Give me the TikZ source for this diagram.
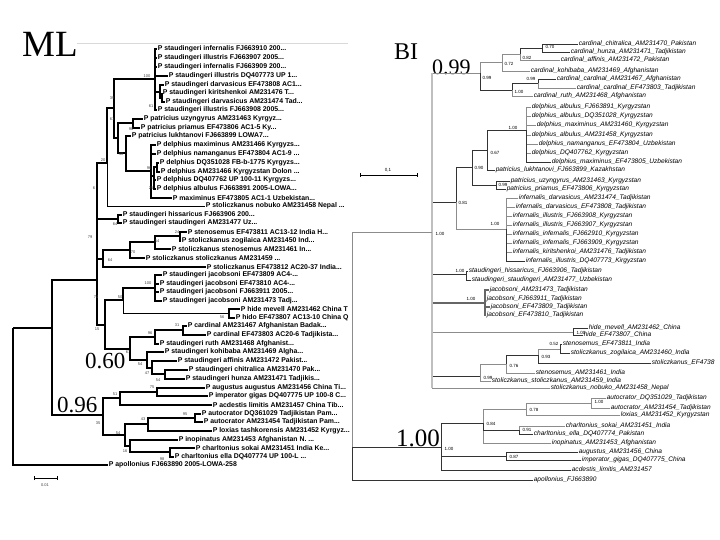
\documentclass[tikz,border=0pt]{standalone}
\usepackage{fontspec}
\setmainfont{Liberation Sans}
\newfontfamily\serifbig{Liberation Serif}
\begin{document}
\begin{tikzpicture}[x=1pt,y=-1pt,
  mlleaf/.style={anchor=west,inner sep=0.6pt,font=\fontsize{6.9}{7}\selectfont\bfseries},
  bileaf/.style={anchor=west,inner sep=0.6pt,font=\fontsize{6.6}{7}\selectfont\itshape},
  bs/.style={inner sep=0.3pt,font=\fontsize{4}{4}\selectfont,text=black!75},
  bbs/.style={anchor=west,inner sep=0.3pt,font=\fontsize{4.5}{5}\selectfont},
  big/.style={anchor=base west,inner sep=0pt,font=\serifbig\fontsize{23}{23}\selectfont},
  mlb/.style={line width=1.5pt},
  mlt/.style={line width=0.7pt},
  bib/.style={line width=0.7pt,black!80},
  big2/.style={line width=0.7pt,black!45},
  mid/.style={line width=1.6pt,black!25}]
\useasboundingbox (0,0) rectangle (720,540);
\fill[white] (0,0) rectangle (720,540);
% ---------- titles ----------
\node[big,font=\serifbig\fontsize{37}{37}\selectfont] (tML) at (22,57) {ML};
\node[big] (t060) at (85,368) {0.60};
\node[big] (t096) at (57,412) {0.96};
\node[big,font=\serifbig\fontsize{24}{24}\selectfont] (tBI) at (394,60) {BI};
\node[big,font=\serifbig\fontsize{22}{22}\selectfont] (t099) at (432,75) {0.99};
\node[big,font=\serifbig\fontsize{25}{25}\selectfont] (t100) at (396,446) {1.00};
\coordinate (sepA) at (77,43); \coordinate (sepB) at (348,43);
\draw[black!15,line width=0.6pt] (sepA) -- (sepB);
% ---------- ML leaves ----------
\node[mlleaf] (L1) at (157,49) {P staudingeri infernalis FJ663910 200...};
\node[mlleaf] (L2) at (157,58) {P staudingeri illustris FJ663907 2005...};
\node[mlleaf] (L3) at (157,67) {P staudingeri infernalis FJ663909 200...};
\node[mlleaf] (L4) at (168,76) {P staudingeri illustris DQ407773 UP 1...};
\node[mlleaf] (L5) at (164,85) {P staudingeri darvasicus EF473808 AC1...};
\node[mlleaf] (L6) at (162,93) {P staudingeri kiritshenkoi AM231476 T...};
\node[mlleaf] (L7) at (165,102) {P staudingeri darvasicus AM231474 Tad...};
\node[mlleaf] (L8) at (157,110) {P staudingeri illustris FJ663908 2005...};
\node[mlleaf] (L9) at (143,119) {P patricius uzyngyrus AM231463 Kyrgyz...};
\node[mlleaf] (L10) at (140,128) {P patricius priamus EF473806 AC1-5 Ky...};
\node[mlleaf] (L11) at (131,136) {P patricius lukhtanovi FJ663899 LOWA7...};
\node[mlleaf] (L12) at (156,145) {P delphius maximinus AM231466 Kyrgyzs...};
\node[mlleaf] (L13) at (156,154) {P delphius namanganus EF473804 AC1-9 ...};
\node[mlleaf] (L14) at (159,163) {P delphius DQ351028 FB-b-1775 Kyrgyzs...};
\node[mlleaf] (L15) at (160,172) {P delphius AM231466 Kyrgyzstan Dolon ...};
\node[mlleaf] (L16) at (156,180) {P delphius DQ407762 UP 100-11 Kyrgyzs...};
\node[mlleaf] (L17) at (156,189) {P delphius albulus FJ663891 2005-LOWA...};
\node[mlleaf] (L18) at (172,198) {P maximinus EF473805 AC1-1 Uzbekistan...};
\node[mlleaf] (L19) at (205,206) {P stoliczkanus nobuko AM231458 Nepal ...};
\node[mlleaf] (L20) at (122,215) {P staudingeri hissaricus FJ663906 200...};
\node[mlleaf] (L21) at (122,223) {P staudingeri staudingeri AM231477 Uz...};
\node[mlleaf] (L22) at (187,232) {P stenosemus EF473811 AC13-12 India H...};
\node[mlleaf] (L23) at (181,241) {P stoliczkanus zogilaica AM231450 Ind...};
\node[mlleaf] (L24) at (171,249) {P stoliczkanus stenosemus AM231461 In...};
\node[mlleaf] (L25) at (145,258) {P stoliczkanus stoliczkanus AM231459 ...};
\node[mlleaf] (L26) at (206,267) {P stoliczkanus EF473812 AC20-37 India...};
\node[mlleaf] (L27) at (162,275) {P staudingeri jacobsoni EF473809 AC4-...};
\node[mlleaf] (L28) at (159,284) {P staudingeri jacobsoni EF473810 AC4-...};
\node[mlleaf] (L29) at (159,292) {P staudingeri jacobsoni FJ663911 2005...};
\node[mlleaf] (L30) at (162,301) {P staudingeri jacobsoni AM231473 Tadj...};
\node[mlleaf] (L31) at (240,309) {P hide mevell AM231462 China T};
\node[mlleaf] (L32) at (235,318) {P hido EF473807 AC13-10 China Q};
\node[mlleaf] (L33) at (187,326) {P cardinal AM231467 Afghanistan Badak...};
\node[mlleaf] (L34) at (206,335) {P cardinal EF473803 AC20-6 Tadjikista...};
\node[mlleaf] (L35) at (159,344) {P staudingeri ruth AM231468 Afghanist...};
\node[mlleaf] (L36) at (164,352) {P staudingeri kohibaba AM231469 Algha...};
\node[mlleaf] (L37) at (177,361) {P staudingeri affinis AM231472 Pakist...};
\node[mlleaf] (L38) at (188,370) {P staudingeri chitralica AM231470 Pak...};
\node[mlleaf] (L39) at (185,379) {P staudingeri hunza AM231471 Tadjikis...};
\node[mlleaf] (L40) at (205,388) {P augustus augustus AM231456 China Ti...};
\node[mlleaf] (L41) at (208,396) {P imperator gigas DQ407775 UP 100-8 C...};
\node[mlleaf] (L42) at (212,405) {P acdestis limitis AM231457 China Tib...};
\node[mlleaf] (L43) at (201,414) {P autocrator DQ361029 Tadjikistan Pam...};
\node[mlleaf] (L44) at (203,422) {P autocrator AM231454 Tadjikistan Pam...};
\node[mlleaf] (L45) at (212,431) {P loxias tashkorensis AM231452 Kyrgyz...};
\node[mlleaf] (L46) at (178,440) {P inopinatus AM231453 Afghanistan N. ...};
\node[mlleaf] (L47) at (195,448) {P charltonius sokai AM231451 India Ke...};
\node[mlleaf] (L48) at (174,457) {P charltonius ella DQ407774 UP 100-L ...};
\node[mlleaf] (L49) at (108,465) {P apollonius FJ663890 2005-LOWA-258};
% ---------- ML internal nodes ----------
\coordinate (a1) at (155,79);  \coordinate (a2) at (160,92);  \coordinate (a3) at (162,98);
\coordinate (a4) at (133,123); \coordinate (a7) at (157,167); \coordinate (a6) at (154,176);
\coordinate (a5) at (151,171); \coordinate (a8) at (126,153); \coordinate (a9) at (118,138);
\coordinate (a10) at (114,108); \coordinate (a11) at (107,163); \coordinate (a12) at (118,219);
\coordinate (b1) at (180,236); \coordinate (b2) at (155,242); \coordinate (b3) at (130,250);
\coordinate (b4) at (103,259); \coordinate (c1) at (155,288); \coordinate (c2) at (229,313);
\coordinate (c3) at (123,300); \coordinate (c4) at (183,330); \coordinate (c5) at (155,337);
\coordinate (c6) at (165,374); \coordinate (c7) at (152,368); \coordinate (c8) at (147,360);
\coordinate (c9) at (130,349); \coordinate (c10) at (105,325); \coordinate (d1) at (97,280);
\coordinate (f2) at (157,392); \coordinate (f3) at (120,398); \coordinate (f4) at (195,418);
\coordinate (f5) at (148,424); \coordinate (f6) at (170,452); \coordinate (f7) at (130,446);
\coordinate (f8) at (125,435); \coordinate (f1) at (103,415); \coordinate (e1) at (52,328);
\coordinate (r1) at (13,328);
% ---------- ML edges ----------
\draw[mlb] (a1) |- (L1.west) (a1) |- (L2.west) (a1) |- (L3.west) (a1) |- (L4.west)
  (a1) |- (a2) (a1) |- (L8.west) (a2) |- (L5.west) (a2) |- (a3)
  (a3) |- (L6.west) (a3) |- (L7.west);
\draw[mlb] (a4) |- (L9.west) (a4) |- (L10.west) (a7) |- (L14.west) (a7) |- (L15.west)
  (a6) |- (a7) (a6) |- (L16.west) (a6) |- (L17.west)
  (a5) |- (L12.west) (a5) |- (L13.west) (a5) |- (a6) (a5) |- (L18.west)
  (a8) |- (L11.west) (a8) |- (a5) (a9) |- (a4) (a9) |- (a8)
  (a10) |- (a1) (a10) |- (a9) (a11) |- (a10);
\draw[mlt] (a11) |- (L19.west);
\draw[mlb] (a12) |- (L20.west) (a12) |- (L21.west)
  (b1) |- (L22.west) (b1) |- (L23.west) (b2) |- (b1) (b2) |- (L24.west)
  (b3) |- (b2) (b3) |- (L25.west) (b4) |- (b3) (b4) |- (L26.west);
\draw[mlb] (c1) |- (L27.west) (c1) |- (L28.west) (c1) |- (L29.west) (c1) |- (L30.west)
  (c2) |- (L31.west) (c2) |- (L32.west) (c3) |- (c1);
\draw[mlt] (c3) |- (c2);
\draw[mlb] (c4) |- (L33.west) (c4) |- (L34.west) (c5) |- (c4) (c5) |- (L35.west)
  (c6) |- (L38.west) (c6) |- (L39.west) (c7) |- (L37.west) (c7) |- (c6)
  (c8) |- (L36.west) (c8) |- (c7) (c9) |- (c5) (c9) |- (c8)
  (c10) |- (c3) (c10) |- (c9);
\draw[mlb] (d1) |- (a11) (d1) |- (a12) (d1) |- (b4) (d1) |- (c10);
\draw[mlb] (f2) |- (L40.west) (f2) |- (L41.west) (f3) |- (f2) (f3) |- (L42.west)
  (f4) |- (L43.west) (f4) |- (L44.west) (f5) |- (f4) (f5) |- (L45.west)
  (f6) |- (L47.west) (f6) |- (L48.west) (f7) |- (L46.west) (f7) |- (f6)
  (f8) |- (f5) (f8) |- (f7) (f1) |- (f3) (f1) |- (f8)
  (e1) |- (d1) (e1) |- (f1) (r1) |- (e1) (r1) |- (L49.west);
% ---------- ML support values ----------
\node[bs] (m1) at (147,76) {100};   \node[bs] (m2) at (151,106) {61};
\node[bs] (m3) at (112,98) {39};    \node[bs] (m4) at (112,119) {61};
\node[bs] (m5) at (131,129) {98};   \node[bs] (m6) at (121,154) {48};
\node[bs] (m7) at (149,168) {96};   \node[bs] (m8) at (151,188) {25};
\node[bs] (m9) at (103,160) {20};   \node[bs] (m10) at (94,188) {6};
\node[bs] (m11) at (115,224) {64};  \node[bs] (m12) at (90,237) {79};
\node[bs] (m13) at (177,232) {24};  \node[bs] (m14) at (157,241) {54};
\node[bs] (m15) at (133,252) {70};  \node[bs] (m16) at (110,260) {64};
\node[bs] (m17) at (96,297) {74};   \node[bs] (m18) at (148,283) {100};
\node[bs] (m19) at (120,297) {50};  \node[bs] (m20) at (222,317) {56};
\node[bs] (m21) at (97,329) {15};   \node[bs] (m22) at (177,325) {31};
\node[bs] (m23) at (150,333) {96};  \node[bs] (m24) at (128,352) {67};
\node[bs] (m25) at (140,364) {54};  \node[bs] (m26) at (147,373) {47};
\node[bs] (m27) at (158,380) {54};  \node[bs] (m28) at (152,387) {75};
\node[bs] (m29) at (115,394) {51};  \node[bs] (m30) at (185,414) {95};
\node[bs] (m31) at (143,419) {43};  \node[bs] (m32) at (98,423) {35};
\node[bs] (m33) at (118,433) {54};  \node[bs] (m34) at (125,451) {16};
\node[bs] (m35) at (162,459) {98};
% ML scale
\coordinate (s1) at (34,478); \coordinate (s2) at (57,478);
\draw[line width=0.5pt] (s1) -- (s2) ([yshift=-2pt]s1) -- ([yshift=2pt]s1) ([yshift=-2pt]s2) -- ([yshift=2pt]s2);
\node[bs] (sl1) at (45,485) {0.01};
% ---------- BI leaves ----------
\node[bileaf] (B1) at (578,44) {cardinal\_chitralica\_AM231470\_Pakistan};
\node[bileaf] (B2) at (570,52) {cardinal\_hunza\_AM231471\_Tadjikistan};
\node[bileaf] (B3) at (560,60) {cardinal\_affinis\_AM231472\_Pakistan};
\node[bileaf] (B4) at (530,71) {cardinal\_kohibaba\_AM231469\_Afghanistan};
\node[bileaf] (B5) at (556,79) {cardinal\_cardinal\_AM231467\_Afghanistan};
\node[bileaf] (B6) at (576,88) {cardinal\_cardinal\_EF473803\_Tadjikistan};
\node[bileaf] (B7) at (533,96) {cardinal\_ruth\_AM231468\_Afghanistan};
\node[bileaf] (B8) at (531,107) {delphius\_albulus\_FJ663891\_Kyrgyzstan};
\node[bileaf] (B9) at (531,116) {delphius\_albulus\_DQ351028\_Kyrgyzstan};
\node[bileaf] (B10) at (536,125) {delphius\_maximinus\_AM231460\_Kyrgyzstan};
\node[bileaf] (B11) at (531,135) {delphius\_albulus\_AM231458\_Kyrgyzstan};
\node[bileaf] (B12) at (538,144) {delphius\_namanganus\_EF473804\_Uzbekistan};
\node[bileaf] (B13) at (531,153) {delphius\_DQ407762\_Kyrgyzstan};
\node[bileaf] (B14) at (551,162) {delphius\_maximinus\_EF473805\_Uzbekistan};
\node[bileaf] (B15) at (495,170) {patricius\_lukhtanovi\_FJ663899\_Kazakhstan};
\node[bileaf] (B16) at (510,181) {patricius\_uzyngyrus\_AM231463\_Kyrgyzstan};
\node[bileaf] (B17) at (506,189) {patricius\_priamus\_EF473806\_Kyrgyzstan};
\node[bileaf] (B18) at (518,198) {infernalis\_darvasicus\_AM231474\_Tadjikistan};
\node[bileaf] (B19) at (515,207) {infernalis\_darvasicus\_EF473808\_Tadjikistan};
\node[bileaf] (B20) at (512,216) {infernalis\_illustris\_FJ663908\_Kyrgyzstan};
\node[bileaf] (B21) at (512,225) {infernalis\_illustris\_FJ663907\_Kyrgyzstan};
\node[bileaf] (B22) at (512,234) {infernalis\_infernalis\_FJ662910\_Kyrgyzstan};
\node[bileaf] (B23) at (512,243) {infernalis\_infernalis\_FJ663909\_Kyrgyzstan};
\node[bileaf] (B24) at (512,252) {infernalis\_kiritshenkoi\_AM231476\_Tadjikistan};
\node[bileaf] (B25) at (525,261) {infernalis\_illustris\_DQ407773\_Kirgyzstan};
\node[bileaf] (B26) at (468,271) {staudingeri\_hissaricus\_FJ663906\_Tadjikistan};
\node[bileaf] (B27) at (471,280) {staudingeri\_staudingeri\_AM231477\_Uzbekistan};
\node[bileaf] (B28) at (489,290) {jacobsoni\_AM231473\_Tadjikistan};
\node[bileaf] (B29) at (486,299) {jacobsoni\_FJ663911\_Tadjikistan};
\node[bileaf] (B30) at (490,307) {jacobsoni\_EF473809\_Tadjikistan};
\node[bileaf] (B31) at (486,315) {jacobsoni\_EF473810\_Tadjikistan};
\node[bileaf] (B32) at (588,328) {hide\_mevell\_AM231462\_China};
\node[bileaf] (B33) at (583,335) {hide\_EF473807\_China};
\node[bileaf] (B34) at (562,344) {stenosemus\_EF473811\_India};
\node[bileaf] (B35) at (570,353) {stoliczkanus\_zogilaica\_AM231460\_India};
\node[bileaf] (B36) at (651,363) {stoliczkanus\_EF4738};
\node[bileaf] (B37) at (535,373) {stenosemus\_AM231461\_India};
\node[bileaf] (B38) at (491,381) {stoliczkanus\_stoliczkanus\_AM231459\_India};
\node[bileaf] (B39) at (550,388) {stoliczkanus\_nobuko\_AM231458\_Nepal};
\node[bileaf] (B40) at (606,398) {autocrator\_DQ351029\_Tadjikistan};
\node[bileaf] (B41) at (610,408) {autocrator\_AM231454\_Tadjikistan};
\node[bileaf] (B42) at (620,415) {loxias\_AM231452\_Kyrgyzstan};
\node[bileaf] (B43) at (565,426) {charltonius\_sokai\_AM231451\_India};
\node[bileaf] (B44) at (533,434) {charltonius\_ella\_DQ407774\_Pakistan};
\node[bileaf] (B45) at (551,443) {inopinatus\_AM231453\_Afghanistan};
\node[bileaf] (B46) at (578,452) {augustus\_AM231456\_China};
\node[bileaf] (B47) at (581,460) {imperator\_gigas\_DQ407775\_China};
\node[bileaf] (B48) at (571,470) {acdestis\_limitis\_AM231457};
\node[bileaf] (B49) at (533,480) {apollonius\_FJ663890};
% ---------- BI internal nodes ----------
\coordinate (g1) at (542,48); \coordinate (g2) at (520,54); \coordinate (g3) at (502,62);
\coordinate (g4) at (538,83); \coordinate (g5) at (512,90); \coordinate (g6) at (480,73);
\coordinate (h1) at (526,130); \coordinate (h2) at (487,150); \coordinate (h3) at (496,185);
\coordinate (h4) at (472,167); \coordinate (i1) at (506,229); \coordinate (h5) at (456,202);
\coordinate (j1) at (466,274); \coordinate (j2) at (485,303); \coordinate (j3) at (573,332);
\coordinate (k1) at (560,349); \coordinate (k2) at (538,355); \coordinate (k3) at (506,364);
\coordinate (k4) at (480,376); \coordinate (mm) at (432,232); \coordinate (n1) at (591,403);
\coordinate (n2) at (526,409); \coordinate (n3) at (519,430); \coordinate (n4) at (483,423);
\coordinate (n5) at (506,456); \coordinate (n6) at (441,447); \coordinate (r2) at (352,447);
% ---------- BI edges ----------
\draw[bib] (g1) |- (B1.west) (g1) |- (B2.west) (g2) |- (g1);
\draw[big2] (g2) |- (B3.west) (g3) |- (g2) (g3) |- (B4.west) (g6) |- (g3);
\draw[bib] (g4) |- (B5.west) (g5) |- (g4) (g6) |- (g5);
\draw[big2] (g4) |- (B6.west) (g5) |- (B7.west);
\draw[big2] (h1) |- (B8.west) (h1) |- (B9.west) (h1) |- (B10.west) (h1) |- (B11.west)
  (h1) |- (B12.west) (h1) |- (B13.west);
\draw[bib] (h1) |- (B14.west) (h2) |- (h1) (h2) |- (B15.west) (h4) |- (h2) (h4) |- (h3)
  (h3) |- (B16.west) (h3) |- (B17.west) (h5) |- (h4);
\draw[big2] (i1) |- (B18.west) (i1) |- (B19.west) (i1) |- (B20.west) (i1) |- (B21.west)
  (i1) |- (B22.west) (i1) |- (B23.west) (i1) |- (B24.west) (h5) |- (i1);
\draw[bib] (i1) |- (B25.west);
\draw[bib] (j1) |- (B26.west) (j1) |- (B27.west);
\draw[line width=1.3pt,black!60] (j2) |- (B28.west) (j2) |- (B29.west) (j2) |- (B30.west) (j2) |- (B31.west);
\draw[bib] (j3) |- (B32.west) (j3) |- (B33.west);
\draw[bib] (k1) |- (B34.west) (k1) |- (B35.west) (k2) |- (B36.west) (k3) |- (k2);
\draw[big2] (k2) |- (k1) (k3) |- (B37.west) (k4) |- (k3) (k4) |- (B38.west);
\draw[big2] (n1) |- (B40.west) (n1) |- (B41.west) (n2) |- (n1) (n2) |- (B42.west)
  (n4) |- (n2) (n3) |- (B43.west) (n4) |- (B45.west);
\draw[bib] (n3) |- (B44.west) (n4) |- (n3);
\draw[bib] (n5) |- (B46.west) (n5) |- (B47.west) (n6) |- (n5) (n6) |- (B48.west) (n6) |- (n4);
% spine and root
\draw[bib] (mm) |- (h5) (mm) |- (j1) (mm) |- (k4);
\draw[line width=1.3pt,black!60] (mm) |- (j2);
\draw[big2] (mm) |- (g6) (mm) |- (j3) (mm) |- (B39.west);
\draw[mid] (g6 -| mm) -- (B39.west -| mm);
\draw[big2] (r2) |- (mm);
\draw[bib] (r2) |- (n6) (r2) |- (B49.west);
% ---------- BI support values ----------
\node[bbs] (p1) at (545,47) {0.70};  \node[bbs] (p2) at (522,58) {0.82};
\node[bbs] (p3) at (504,64) {0.72};  \node[bbs] (p4) at (526,79) {0.99};
\node[bbs] (p5) at (514,92) {1.00};  \node[bbs] (p6) at (482,78) {0.99};
\node[bbs] (p7) at (508,128) {1.00}; \node[bbs] (p8) at (490,153) {0.67};
\node[bbs] (p9) at (498,185) {0.99}; \node[bbs] (p10) at (474,168) {0.90};
\node[bbs] (p11) at (458,203) {0.81}; \node[bbs] (p12) at (490,224) {1.00};
\node[bbs] (p13) at (435,234) {1.00}; \node[bbs] (p14) at (455,271) {1.00};
\node[bbs] (p15) at (466,299) {1.00}; \node[bbs] (p16) at (576,333) {1.00};
\node[bbs] (p17) at (549,344) {0.52}; \node[bbs] (p18) at (541,357) {0.93};
\node[bbs] (p19) at (509,366) {0.76}; \node[bbs] (p20) at (483,378) {0.99};
\node[bbs] (p21) at (594,402) {1.00}; \node[bbs] (p22) at (529,410) {0.78};
\node[bbs] (p23) at (522,430) {0.91}; \node[bbs] (p24) at (486,424) {0.84};
\node[bbs] (p25) at (509,457) {0.87}; \node[bbs] (p26) at (444,449) {1.00};
% BI scale
\coordinate (s3) at (360,175); \coordinate (s4) at (417,175);
\draw[line width=0.6pt] (s3) -- (s4) ([yshift=-2pt]s3) -- ([yshift=2pt]s3) ([yshift=-2pt]s4) -- ([yshift=2pt]s4);
\node[bbs,anchor=south] (sl2) at (388,173) {0,1};
\end{tikzpicture}
\end{document}
